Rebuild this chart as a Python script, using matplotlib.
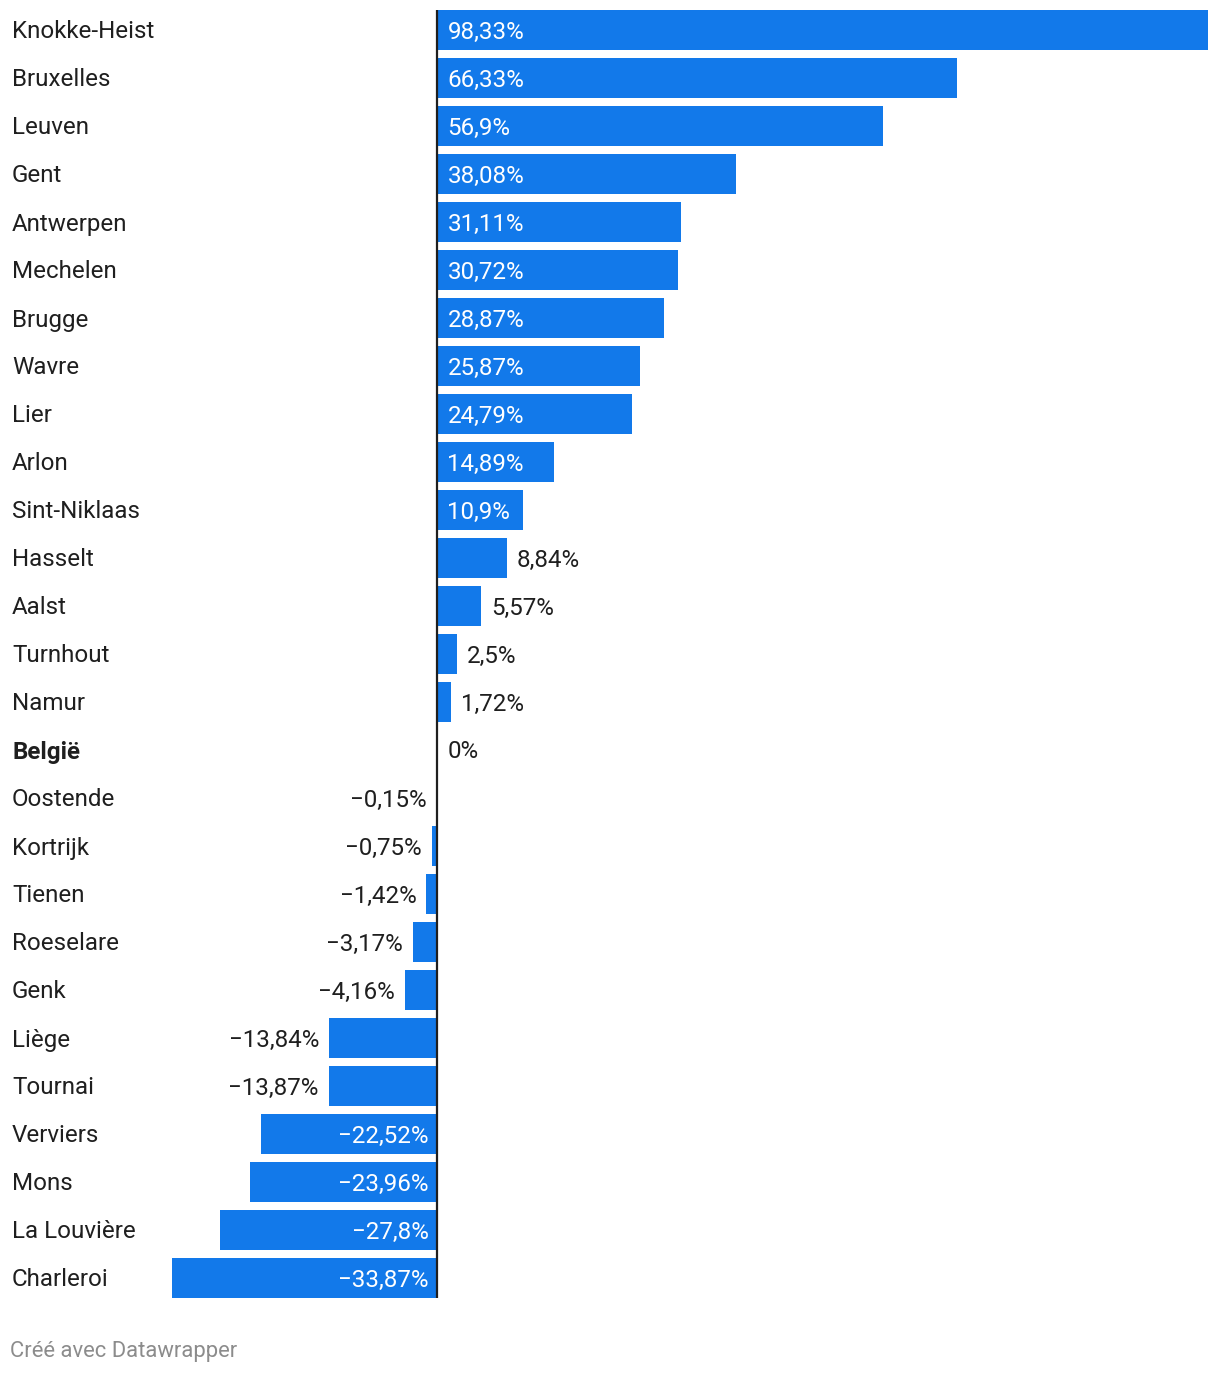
import matplotlib
matplotlib.use("Agg")
import matplotlib.pyplot as plt
from matplotlib.transforms import blended_transform_factory

plt.rcParams["font.family"] = ["Roboto", "DejaVu Sans"]

cities = [
    "Knokke-Heist", "Bruxelles", "Leuven", "Gent", "Antwerpen", "Mechelen",
    "Brugge", "Wavre", "Lier", "Arlon", "Sint-Niklaas", "Hasselt", "Aalst",
    "Turnhout", "Namur", "België", "Oostende", "Kortrijk", "Tienen",
    "Roeselare", "Genk", "Liège", "Tournai", "Verviers", "Mons",
    "La Louvière", "Charleroi",
]
values = [
    98.33, 66.33, 56.9, 38.08, 31.11, 30.72, 28.87, 25.87, 24.79, 14.89,
    10.9, 8.84, 5.57, 2.5, 1.72, 0.0, -0.15, -0.75, -1.42, -3.17, -4.16,
    -13.84, -13.87, -22.52, -23.96, -27.8, -33.87,
]
bold_rows = ["België"]

BLUE = "#1279ea"
DARK = "#1f1f1f"
FS = 17.4

W, H = 1220, 1374
fig = plt.figure(figsize=(W / 100, H / 100), dpi=100)
ax_left, ax_right = 172, 1208
ax_top, ax_bot = 6, 1302
ax = fig.add_axes([ax_left / W, (H - ax_bot) / H, (ax_right - ax_left) / W, (ax_bot - ax_top) / H])
ax.set_xlim(min(values), max(values))
ax.set_ylim(len(cities) - 0.5, -0.5)
ax.axis("off")

ypos = list(range(len(cities)))
ax.barh(ypos, values, height=40 / 48, color=BLUE, linewidth=0)
ax.vlines(0, -0.5 + 4 / 48, len(cities) - 0.5 - 4 / 48, color=DARK, linewidth=1.6, zorder=3)

fig.canvas.draw()
renderer = fig.canvas.get_renderer()
px_per_unit = (ax_right - ax_left) / (max(values) - min(values))

def fmt(v):
    s = f"{abs(v):.2f}".rstrip("0").rstrip(".").replace(".", ",")
    return ("\u2212" if v < 0 else "") + s + "%"

pad_px = 10
dy = 2 / 48  # nudge text down a little
trans_lab = blended_transform_factory(fig.transFigure, ax.transData)
for y, name, v in zip(ypos, cities, values):
    ax.text(12 / W, y + dy, name, transform=trans_lab, ha="left", va="center",
            fontsize=FS, color=DARK,
            fontweight="bold" if name in bold_rows else "normal")

    label = fmt(v)
    t = ax.text(0, y + dy, label, fontsize=FS, va="center")
    tw = t.get_window_extent(renderer).width
    bar_w = abs(v) * px_per_unit
    inside = bar_w >= tw + 2 * pad_px + 2
    off = pad_px / px_per_unit
    if v >= 0:
        if inside:
            t.set_position((off, y + dy)); t.set_ha("left"); t.set_color("white")
        else:
            t.set_position((v + off, y + dy)); t.set_ha("left"); t.set_color(DARK)
    else:
        if inside:
            t.set_position((-off * 0.9, y + dy)); t.set_ha("right"); t.set_color("white")
        else:
            t.set_position((v - off, y + dy)); t.set_ha("right"); t.set_color(DARK)

fig.text(10 / W, 1 - 1351 / H, "Créé avec Datawrapper", fontsize=15.8,
         color="#8c8c8c", ha="left", va="center")

fig.savefig("out.png", dpi=100, facecolor="white")
